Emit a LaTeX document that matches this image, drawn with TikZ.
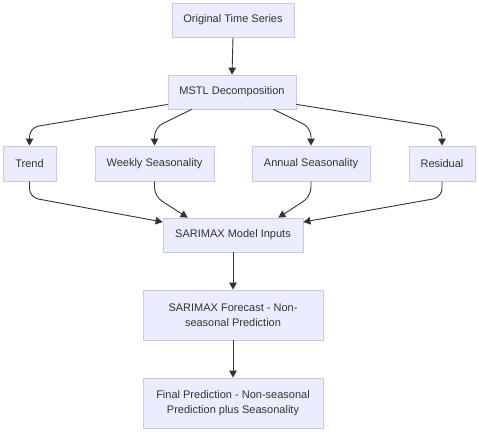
\documentclass[tikz,border=0pt]{standalone}
\usepackage{fontspec}
\setmainfont{Liberation Sans}
\usetikzlibrary{arrows.meta,shadows}
\definecolor{boxfill}{HTML}{ECECFF}
\definecolor{boxline}{HTML}{C9C9E6}
\definecolor{ink}{HTML}{333333}
\begin{document}
\begin{tikzpicture}[x=1pt,y=-1pt,
  box/.style={draw=boxline,fill=boxfill,line width=0.8pt,text=ink,
    font=\fontsize{11}{15}\selectfont,align=center,inner sep=0pt,
    drop shadow={shadow xshift=1.2pt,shadow yshift=-1.2pt,fill=black!35,opacity=0.45}},
  conn/.style={draw=ink,line width=0.9pt,rounded corners=9pt,
    -{Triangle[length=7pt,width=7.5pt]}}]
\useasboundingbox (0,0) rectangle (478,431);
\node[box,minimum width=122pt,minimum height=34pt] (ots) at (233,20) {Original Time Series};
\node[box,minimum width=128pt,minimum height=34pt] (mstl) at (232,92) {MSTL Decomposition};
\node[box,minimum width=53pt,minimum height=35pt] (trend) at (29.5,163.5) {Trend};
\node[box,minimum width=119pt,minimum height=35pt] (weekly) at (154.5,163.5) {Weekly Seasonality};
\node[box,minimum width=118pt,minimum height=35pt] (annual) at (311,163.5) {Annual Seasonality};
\node[box,minimum width=66pt,minimum height=35pt] (resid) at (442,163.5) {Residual};
\node[box,minimum width=140pt,minimum height=34pt] (inputs) at (233,235) {SARIMAX Model Inputs};
\node[box,minimum width=180pt,minimum height=50pt] (forecast) at (233,315) {SARIMAX Forecast - Non-\\seasonal Prediction};
\node[box,minimum width=180pt,minimum height=50pt] (final) at (233,403) {Final Prediction - Non-seasonal\\Prediction plus Seasonality};

\draw[conn] (ots.south) -- (mstl.north);
\draw[conn] ([yshift=5pt]mstl.south west) -- ([yshift=18pt]trend.north) -- (trend.north);
\draw[conn] ([xshift=24pt]mstl.south west) -- ([yshift=18pt]weekly.north) -- (weekly.north);
\draw[conn] ([xshift=-23pt]mstl.south east) -- ([yshift=18pt]annual.north) -- (annual.north);
\draw[conn] ([yshift=5pt]mstl.south east) -- ([yshift=18pt]resid.north) -- (resid.north);

\draw[conn] (trend.south) -- ([yshift=-16pt]trend.south) -- ([yshift=13pt]inputs.west);
\draw[conn] (weekly.south) -- ([yshift=-15pt]weekly.south) -- ([xshift=25pt]inputs.north west);
\draw[conn] (annual.south) -- ([yshift=-15pt]annual.south) -- ([xshift=-25pt]inputs.north east);
\draw[conn] (resid.south) -- ([yshift=-16pt]resid.south) -- ([yshift=13pt]inputs.east);

\draw[conn] (inputs.south) -- (forecast.north);
\draw[conn] (forecast.south) -- (final.north);
\end{tikzpicture}
\end{document}
